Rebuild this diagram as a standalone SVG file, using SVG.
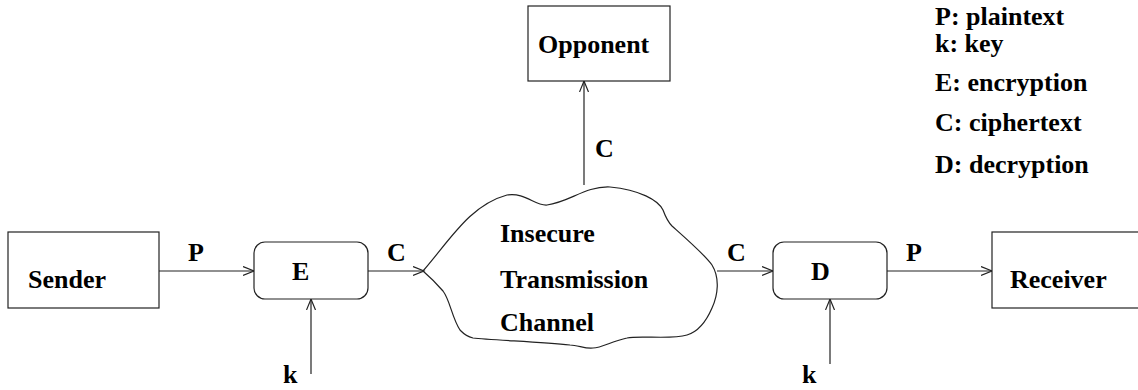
<svg xmlns="http://www.w3.org/2000/svg" width="1138" height="390" viewBox="0 0 1138 390">
<style>
text{font-family:"Liberation Serif","Times New Roman",serif;font-weight:bold;font-size:26px;fill:#000}
.box{fill:#fff;stroke:#222;stroke-width:1.2}
.ln{fill:none;stroke:#222;stroke-width:1.2}
</style>
<defs>
<marker id="ah" markerUnits="userSpaceOnUse" markerWidth="14" markerHeight="12" refX="11" refY="5" orient="auto">
<path d="M0,0.5 L11,5 L0,9.5" fill="none" stroke="#222" stroke-width="1.2"/>
</marker>
</defs>
<rect width="1138" height="390" fill="#fff"/>
<g id="connectors">
<line class="ln" x1="159" y1="271" x2="254" y2="271" marker-end="url(#ah)"/>
<line class="ln" x1="368" y1="271" x2="424" y2="271" marker-end="url(#ah)"/>
<line class="ln" x1="311" y1="374" x2="311" y2="299" marker-end="url(#ah)"/>
<line class="ln" x1="584" y1="185" x2="584" y2="81" marker-end="url(#ah)"/>
<line class="ln" x1="717" y1="271" x2="773" y2="271" marker-end="url(#ah)"/>
<line class="ln" x1="887" y1="271" x2="992" y2="271" marker-end="url(#ah)"/>
<line class="ln" x1="830" y1="364" x2="830" y2="299" marker-end="url(#ah)"/>
<text x="188" y="261">P</text>
<text x="387" y="261">C</text>
<text x="283" y="383">k</text>
<text x="595" y="157">C</text>
<text x="727" y="261">C</text>
<text x="906" y="261">P</text>
<text x="802" y="383">k</text>
</g>
<g id="sender">
<rect class="box" x="8" y="232" width="151" height="76"/>
<text x="28" y="288">Sender</text>
</g>
<g id="encrypt">
<rect class="box" x="254" y="242" width="114" height="57" rx="11"/>
<text x="292" y="280">E</text>
</g>
<g id="channel">
<path class="ln" d="M423,271 C450,240 470,205 507,195 C525,192 535,206 547,205 C570,202 585,186 610,187 C640,190 658,200 663,210 C666,218 668,222 672,226 C690,242 705,255 712,265 C720,278 718,295 712,308 C706,322 697,332 687,335 C670,340 640,335 627,338 C612,341 602,348 593,348 C585,349 578,345 570,345 C540,342 490,340 473,338 C465,336 462,332 460,330 C452,318 450,300 443,291 C436,283 430,277 423,271 Z"/>
<text x="500" y="242">Insecure</text>
<text x="500" y="288">Transmission</text>
<text x="500" y="331">Channel</text>
</g>
<g id="opponent">
<rect class="box" x="528" y="6" width="142" height="75"/>
<text x="538" y="53">Opponent</text>
</g>
<g id="decrypt">
<rect class="box" x="773" y="242" width="114" height="57" rx="11"/>
<text x="811" y="280">D</text>
</g>
<g id="receiver">
<rect class="box" x="992" y="232" width="160" height="76"/>
<text x="1010" y="288">Receiver</text>
</g>
<g id="legend">
<text x="935" y="25">P: plaintext</text>
<text x="935" y="52">k: key</text>
<text x="935" y="91">E: encryption</text>
<text x="935" y="131">C: ciphertext</text>
<text x="935" y="173">D: decryption</text>
</g>
</svg>
